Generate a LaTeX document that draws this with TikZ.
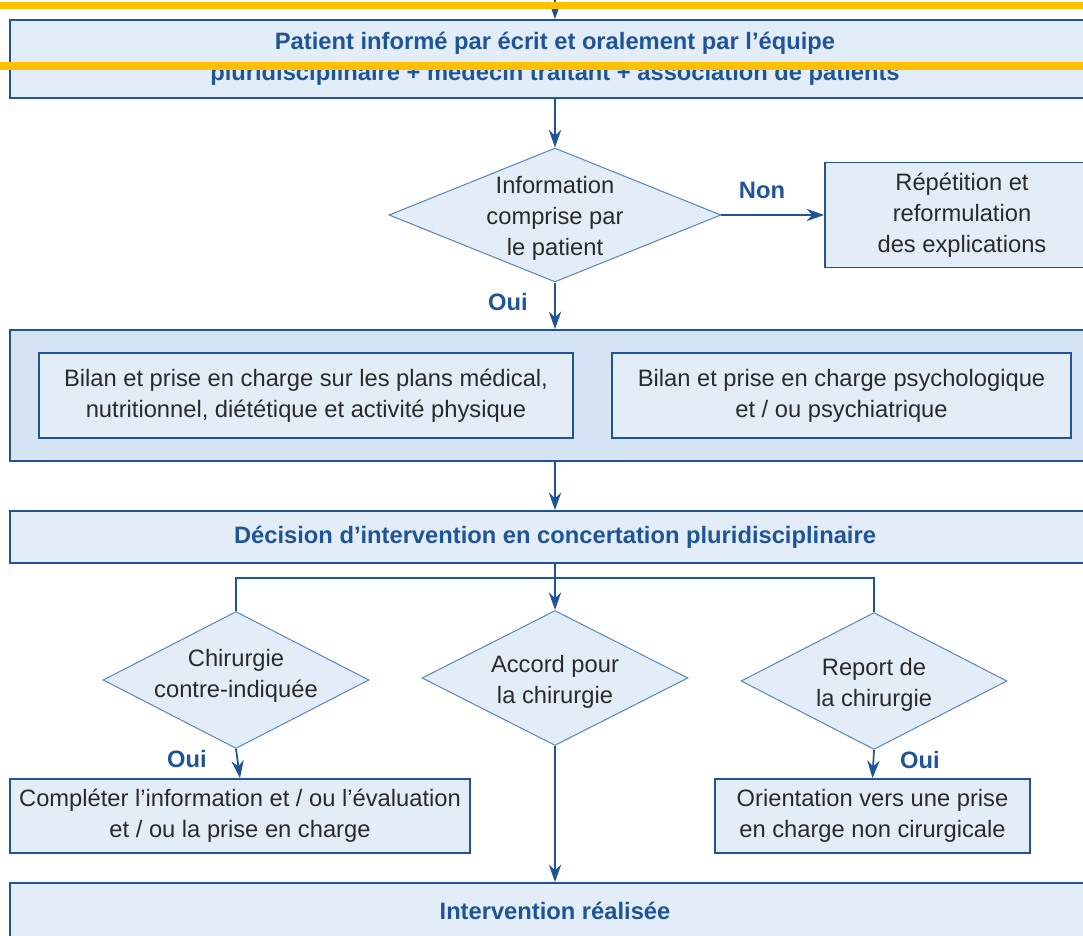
\documentclass[tikz,border=0pt]{standalone}
\usepackage{fontspec}
\setmainfont{Liberation Sans}
\usetikzlibrary{shapes.geometric,arrows.meta}
\definecolor{bordeau}{HTML}{1F5597}
\definecolor{fondclair}{HTML}{E3EDF8}
\definecolor{fondcadre}{HTML}{D5E3F3}
\definecolor{texte}{HTML}{2A2A2A}
\definecolor{jaune}{HTML}{FFC000}
\begin{document}
\begin{tikzpicture}[
  x=0.02cm, y=-0.02cm,
  font=\fontsize{13.5}{17.6}\selectfont,
  boite/.style={rectangle, draw=bordeau, line width=1pt, fill=fondclair, text=texte, align=center, inner sep=0pt},
  titre/.style={boite, font=\fontsize{13.5}{17.6}\selectfont\bfseries, text=bordeau},
  cadre/.style={rectangle, draw=bordeau, line width=1pt, fill=fondcadre, inner sep=0pt},
  choix/.style={diamond, draw=bordeau!70, line width=0.6pt, fill=fondclair, inner sep=0pt},
  txt/.style={text=texte, align=center, inner sep=0pt, yshift=-0.07cm},
  rep/.style={font=\fontsize{13.5}{17.6}\selectfont\bfseries, text=bordeau, inner sep=0pt},
  fleche/.style={draw=bordeau, line width=1pt, -{Stealth[length=10pt, width=7pt]}},
  ligne/.style={draw=bordeau, line width=1pt}
]
  \useasboundingbox (0,0) rectangle (1083,936);

  % Information du patient
  \coordinate (entree) at (555,0);
  \node[titre, minimum width=21.8cm, minimum height=1.56cm] (patient) at (555,59)
    {Patient informé par écrit et oralement par l'équipe\\pluridisciplinaire + médecin traitant + association de patients};
  \node[choix, minimum width=6.64cm, minimum height=2.68cm,
    label={[txt]center:Information\\comprise par\\le patient}] (comprise) at (555,215) {};
  \node[boite, minimum width=5.48cm, minimum height=2.1cm] (repetition) at (962,215)
    {Répétition et\\reformulation\\des explications};

  % Bilans
  \node[cadre, minimum width=21.8cm, minimum height=2.62cm] (bilans) at (555,395.5) {};
  \node[boite, minimum width=10.68cm, minimum height=1.7cm] (medical) at (306,395.5)
    {Bilan et prise en charge sur les plans médical,\\nutritionnel, diététique et activité physique};
  \node[boite, minimum width=9.18cm, minimum height=1.7cm] (psy) at (841.5,395.5)
    {Bilan et prise en charge psychologique\\et / ou psychiatrique};

  % Décision
  \node[titre, minimum width=21.8cm, minimum height=1.04cm] (decision) at (555,537)
    {Décision d'intervention en concertation pluridisciplinaire};
  \coordinate (barre) at (555,578);
  \node[choix, minimum width=5.32cm, minimum height=2.74cm,
    label={[txt, yshift=0.16cm]center:Chirurgie\\contre-indiquée}] (contre) at (236,680) {};
  \node[choix, minimum width=5.32cm, minimum height=2.7cm,
    label={[txt]center:Accord pour\\la chirurgie}] (accord) at (555,678) {};
  \node[choix, minimum width=5.32cm, minimum height=2.74cm,
    label={[txt]center:Report de\\la chirurgie}] (report) at (874,681) {};
  \node[boite, minimum width=9.2cm, minimum height=1.48cm] (completer) at (240,816)
    {Compléter l'information et / ou l'évaluation\\et / ou la prise en charge};
  \node[boite, minimum width=6.3cm, minimum height=1.48cm] (orientation) at (872.5,816)
    {Orientation vers une prise\\en charge non cirurgicale};
  \node[titre, minimum width=21.8cm, minimum height=1.12cm] (intervention) at (555,911)
    {Intervention réalisée};

  % Liaisons
  \draw[fleche] (entree) -- (patient);
  \draw[fleche] (patient) -- (comprise);
  \draw[fleche] (comprise.east) -- (repetition.west);
  \draw[fleche] (comprise.south) -- (bilans.north);
  \draw[fleche] (bilans.south) -- (decision.north);
  \draw[fleche] (decision.south) -- (accord.north);
  \draw[ligne] (contre.north) |- (barre) -| (report.north);
  \draw[fleche] (contre.south) -- (completer.north);
  \draw[fleche] (report.south) -- (orientation.north);
  \draw[fleche] (accord.south) -- (intervention.north);

  \node[rep] (non) at (762,190) {Non};
  \node[rep] (oui1) at (508,302) {Oui};
  \node[rep] (oui2) at (187,759) {Oui};
  \node[rep] (oui3) at (920,760) {Oui};

  % Traits jaunes
  \fill[jaune] (0,2) rectangle (1083,9);
  \fill[jaune] (0,62) rectangle (1083,70);
\end{tikzpicture}
\end{document}
